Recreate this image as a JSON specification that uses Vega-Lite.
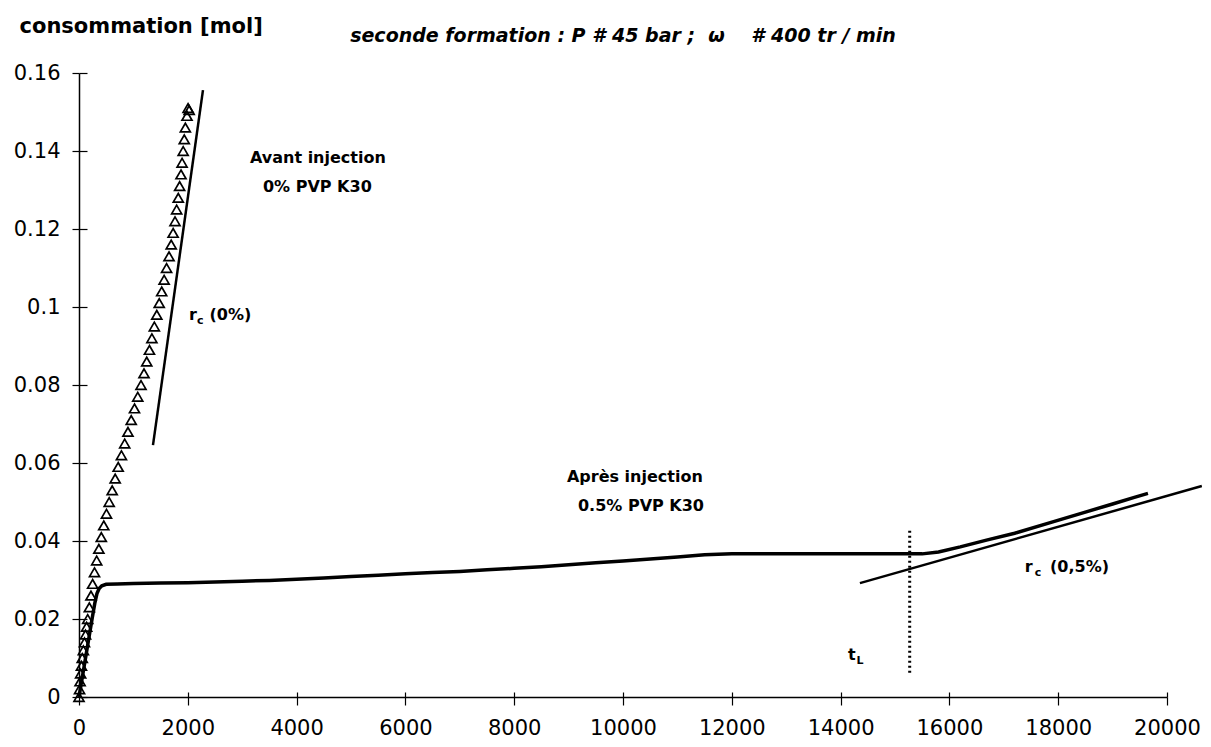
{
  "$schema": "https://vega.github.io/schema/vega-lite/v6.json",
  "width": 1088,
  "height": 624,
  "autosize": "none",
  "padding": {"left": 79, "top": 73, "right": 44, "bottom": 50},
  "background": "white",
  "config": {
    "view": {"stroke": null},
    "font": "DejaVu Sans",
    "axis": {"grid": false, "domainColor": "black", "tickColor": "black", "labelColor": "black", "labelFont": "DejaVu Sans", "labelFontSize": 21, "domainWidth": 1.5, "tickWidth": 1.2}
  },
  "title": {
    "text": "seconde formation : P # 45 bar ;\u00a0\u00a0ω\u00a0\u00a0\u00a0\u00a0# 400 tr / min",
    "font": "DejaVu Sans",
    "fontSize": 19,
    "fontWeight": "bold",
    "fontStyle": "italic",
    "color": "black",
    "anchor": "middle",
    "frame": "group",
    "offset": 0,
    "dy": 31
  },
  "datasets": {
    "avant": [
      {"t": 0, "c": 0.000}, {"t": 10, "c": 0.002}, {"t": 20, "c": 0.004}, {"t": 30, "c": 0.006}, {"t": 45, "c": 0.008},
      {"t": 60, "c": 0.010}, {"t": 80, "c": 0.012}, {"t": 100, "c": 0.014}, {"t": 120, "c": 0.016}, {"t": 140, "c": 0.018},
      {"t": 160, "c": 0.020}, {"t": 190, "c": 0.023}, {"t": 220, "c": 0.026}, {"t": 250, "c": 0.029}, {"t": 285, "c": 0.032},
      {"t": 325, "c": 0.035}, {"t": 365, "c": 0.038}, {"t": 410, "c": 0.041}, {"t": 455, "c": 0.044}, {"t": 505, "c": 0.047},
      {"t": 555, "c": 0.050}, {"t": 610, "c": 0.053}, {"t": 665, "c": 0.056}, {"t": 720, "c": 0.059}, {"t": 780, "c": 0.062},
      {"t": 840, "c": 0.065}, {"t": 900, "c": 0.068}, {"t": 960, "c": 0.071}, {"t": 1020, "c": 0.074}, {"t": 1080, "c": 0.077},
      {"t": 1140, "c": 0.080}, {"t": 1195, "c": 0.083}, {"t": 1245, "c": 0.086}, {"t": 1295, "c": 0.089}, {"t": 1340, "c": 0.092},
      {"t": 1385, "c": 0.095}, {"t": 1430, "c": 0.098}, {"t": 1475, "c": 0.101}, {"t": 1520, "c": 0.104}, {"t": 1565, "c": 0.107},
      {"t": 1610, "c": 0.110}, {"t": 1655, "c": 0.113}, {"t": 1695, "c": 0.116}, {"t": 1730, "c": 0.119}, {"t": 1765, "c": 0.122},
      {"t": 1795, "c": 0.125}, {"t": 1825, "c": 0.128}, {"t": 1850, "c": 0.131}, {"t": 1875, "c": 0.134}, {"t": 1895, "c": 0.137},
      {"t": 1915, "c": 0.140}, {"t": 1935, "c": 0.143}, {"t": 1955, "c": 0.146}, {"t": 1985, "c": 0.149}, {"t": 2005, "c": 0.151},
      {"t": 2025, "c": 0.1505}
    ],
    "apres": [
      {"t": 0, "c": 0}, {"t": 60, "c": 0.005}, {"t": 120, "c": 0.010}, {"t": 180, "c": 0.015}, {"t": 240, "c": 0.020},
      {"t": 290, "c": 0.024}, {"t": 330, "c": 0.0265}, {"t": 370, "c": 0.0278}, {"t": 420, "c": 0.0285}, {"t": 500, "c": 0.0289},
      {"t": 700, "c": 0.0290}, {"t": 1000, "c": 0.0291}, {"t": 1500, "c": 0.0292}, {"t": 2000, "c": 0.0293}, {"t": 2500, "c": 0.0295},
      {"t": 3000, "c": 0.0297}, {"t": 3500, "c": 0.0299}, {"t": 4000, "c": 0.0302}, {"t": 4500, "c": 0.0305}, {"t": 5000, "c": 0.0309},
      {"t": 5500, "c": 0.0312}, {"t": 6000, "c": 0.0316}, {"t": 6500, "c": 0.0319}, {"t": 7000, "c": 0.0322}, {"t": 7500, "c": 0.0326},
      {"t": 8000, "c": 0.0330}, {"t": 8500, "c": 0.0334}, {"t": 9000, "c": 0.0339}, {"t": 9500, "c": 0.0344}, {"t": 10000, "c": 0.0349},
      {"t": 10500, "c": 0.0354}, {"t": 11000, "c": 0.0359}, {"t": 11500, "c": 0.0365}, {"t": 12000, "c": 0.0367}, {"t": 13000, "c": 0.0367},
      {"t": 14000, "c": 0.0367}, {"t": 15000, "c": 0.0367}, {"t": 15500, "c": 0.0367}, {"t": 15800, "c": 0.0372}, {"t": 16200, "c": 0.0385},
      {"t": 16700, "c": 0.0403}, {"t": 17200, "c": 0.0420}, {"t": 17900, "c": 0.0449}, {"t": 18500, "c": 0.0474}, {"t": 19000, "c": 0.0495},
      {"t": 19400, "c": 0.0512}, {"t": 19650, "c": 0.0522}
    ],
    "tangentes": [
      {"droite": "rc0", "t": 1360, "c": 0.0646}, {"droite": "rc0", "t": 2279, "c": 0.1556},
      {"droite": "rc05", "t": 14355, "c": 0.0292}, {"droite": "rc05", "t": 20640, "c": 0.0541}
    ],
    "tl": [{"t": 15270, "c": 0.0062, "c2": 0.0433}],
    "textes": [
      {"t": 3143, "c": 0.1369, "txt": "Avant injection"},
      {"t": 3382, "c": 0.1295, "txt": "0% PVP K30"},
      {"t": 8969, "c": 0.0551, "txt": "Après injection"},
      {"t": 9172, "c": 0.0477, "txt": "0.5% PVP K30"},
      {"t": 2022, "c": 0.0967, "txt": "r"},
      {"t": 2400, "c": 0.0967, "txt": "(0%)"},
      {"t": 17387, "c": 0.0321, "txt": "r"},
      {"t": 17850, "c": 0.0321, "txt": "(0,5%)"},
      {"t": 14134, "c": 0.0095, "txt": "t"}
    ],
    "indices": [
      {"t": 2169, "c": 0.0956, "txt": "c"},
      {"t": 17571, "c": 0.0310, "txt": "c"},
      {"t": 14290, "c": 0.0085, "txt": "L"}
    ]
  },
  "resolve": {"axis": {"x": "independent", "y": "independent"}},
  "layer": [
    {
      "data": {"name": "apres"},
      "mark": {"type": "line", "color": "black", "strokeWidth": 3.5},
      "encoding": {
        "x": {"field": "t", "type": "quantitative", "scale": {"domain": [0, 20000], "nice": false, "zero": false},
              "axis": {"orient": "bottom", "title": null, "values": [0, 2000, 4000, 6000, 8000, 10000, 12000, 14000, 16000, 18000, 20000], "format": "d", "tickSize": 8, "labelPadding": 12, "labelFlush": false, "labelOverlap": false}},
        "y": {"field": "c", "type": "quantitative", "scale": {"domain": [0, 0.16], "nice": false, "zero": false},
              "axis": {"orient": "left", "values": [0, 0.02, 0.04, 0.06, 0.08, 0.1, 0.12, 0.14, 0.16], "format": "~g", "tickSize": 7, "labelPadding": 12, "labelFlush": false, "labelOverlap": false,
                       "title": "consommation [mol]", "titleAngle": 0, "titleAlign": "left", "titleBaseline": "alphabetic", "titleX": -60, "titleY": -41,
                       "titleFont": "DejaVu Sans", "titleFontSize": 21, "titleFontWeight": "bold", "titleColor": "black"}}
      }
    },
    {
      "data": {"name": "avant"},
      "mark": {"type": "point", "shape": "triangle-up", "filled": false, "color": "black", "size": 100, "strokeWidth": 1.7, "opacity": 1},
      "encoding": {
        "x": {"field": "t", "type": "quantitative", "axis": {"orient": "bottom", "title": null, "values": [0, 2000, 4000, 6000, 8000, 10000, 12000, 14000, 16000, 18000, 20000], "tickSize": -5, "labels": false, "domain": false}},
        "y": {"field": "c", "type": "quantitative", "axis": {"orient": "left", "title": null, "values": [0, 0.02, 0.04, 0.06, 0.08, 0.1, 0.12, 0.14, 0.16], "tickSize": -8, "labels": false, "domain": false}}
      }
    },
    {
      "data": {"name": "tangentes"},
      "mark": {"type": "line", "color": "black", "strokeWidth": 2.5},
      "encoding": {
        "x": {"field": "t", "type": "quantitative", "axis": null},
        "y": {"field": "c", "type": "quantitative", "axis": null},
        "detail": {"field": "droite"}
      }
    },
    {
      "data": {"name": "tl"},
      "mark": {"type": "rule", "color": "black", "strokeWidth": 3, "strokeDash": [2, 3]},
      "encoding": {
        "x": {"field": "t", "type": "quantitative", "axis": null},
        "y": {"field": "c", "type": "quantitative", "axis": null},
        "y2": {"field": "c2"}
      }
    },
    {
      "data": {"name": "textes"},
      "mark": {"type": "text", "align": "left", "baseline": "alphabetic", "font": "DejaVu Sans", "fontWeight": "bold", "fontSize": 16, "color": "black"},
      "encoding": {
        "x": {"field": "t", "type": "quantitative", "axis": null},
        "y": {"field": "c", "type": "quantitative", "axis": null},
        "text": {"field": "txt"}
      }
    },
    {
      "data": {"name": "indices"},
      "mark": {"type": "text", "align": "left", "baseline": "alphabetic", "font": "DejaVu Sans", "fontWeight": "bold", "fontSize": 11, "color": "black"},
      "encoding": {
        "x": {"field": "t", "type": "quantitative", "axis": null},
        "y": {"field": "c", "type": "quantitative", "axis": null},
        "text": {"field": "txt"}
      }
    }
  ]
}
